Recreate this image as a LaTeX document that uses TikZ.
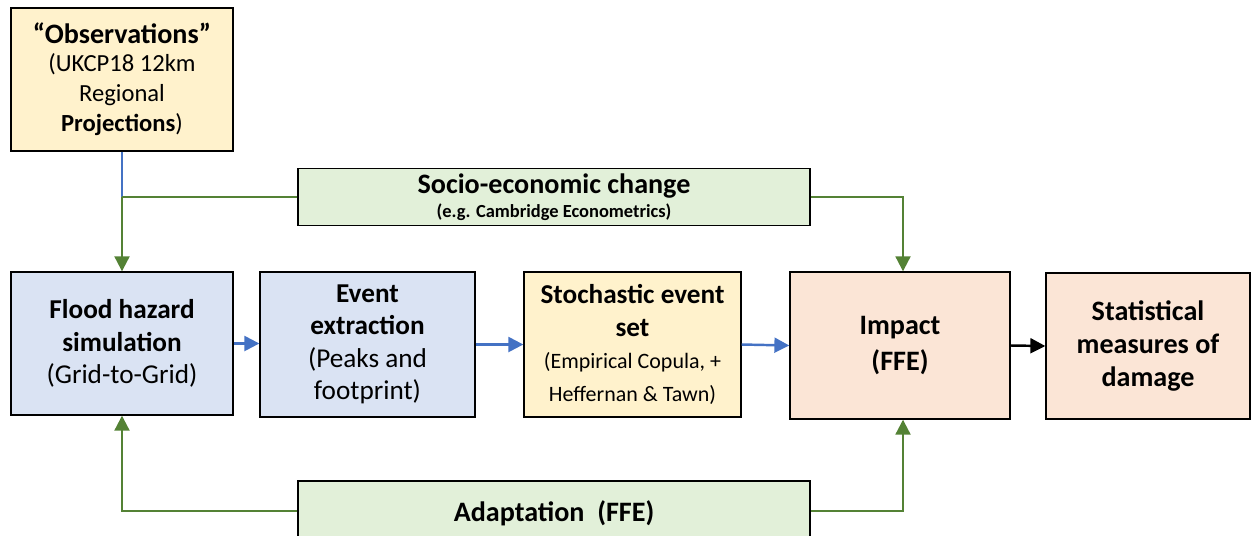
\documentclass[tikz,border=0pt]{standalone}
\usepackage{fontspec}
\setmainfont{Carlito}
\usetikzlibrary{arrows.meta}
\definecolor{boxblue}{HTML}{DAE3F3}
\definecolor{boxyellow}{HTML}{FFF2CC}
\definecolor{boxpink}{HTML}{FBE5D6}
\definecolor{boxgreen}{HTML}{E2F0D9}
\definecolor{linegreen}{HTML}{548235}
\definecolor{lineblue}{HTML}{4472C4}
\tikzset{
  stagebox/.style={draw=black, line width=0.8pt, align=center, inner sep=2pt,
    font=\fontsize{15.5}{18.5}\selectfont},
  greenflow/.style={draw=linegreen, line width=1.2pt},
  blueflow/.style={draw=lineblue, line width=1.4pt},
  tipflow/.style={-{Triangle[length=8.5pt,width=8.5pt]}}
}
\begin{document}
\begin{tikzpicture}[x=0.02cm, y=-0.02cm]
			%%%%% START %%%%%
			\clip (0, 0) rectangle (1251, 535);

			\node[stagebox, fill=boxyellow, minimum width=4.44cm, minimum height=2.86cm, font=\fontsize{14}{17}\selectfont] (obs) at (122, 79.5)
				{{\fontsize{16}{17}\selectfont\bfseries ``Observations''}\\[-1pt](UKCP18 12km\\Regional\\\textbf{Projections})};
			\node[stagebox, fill=boxgreen, minimum width=10.24cm, minimum height=1.14cm] (socio) at (554, 197)
				{\fontsize{16}{16}\selectfont\textbf{Socio-economic change}\\[-5pt]{\fontsize{10.5}{12}\selectfont\bfseries (e.g. Cambridge Econometrics)}};

			\node[stagebox, fill=boxblue, minimum width=4.44cm, minimum height=2.86cm] (flood) at (122, 343.5)
				{\textbf{Flood hazard}\\\textbf{simulation}\\(Grid-to-Grid)};
			\node[stagebox, fill=boxblue, minimum width=4.30cm, minimum height=2.90cm] (event) at (367.5, 344.5)
				{\textbf{Event}\\\textbf{extraction}\\(Peaks and\\footprint)};
			\node[stagebox, fill=boxyellow, minimum width=4.34cm, minimum height=2.90cm] (stoch) at (632.5, 344.5)
				{\textbf{Stochastic event}\\\textbf{set}\\{\fontsize{12.5}{16}\selectfont (Empirical Copula, +}\\{\fontsize{12.5}{15}\selectfont Heffernan \& Tawn)}};
			\node[stagebox, fill=boxpink, minimum width=4.40cm, minimum height=2.94cm, font=\fontsize{16}{20}\selectfont] (impact) at (900, 345.5)
				{\textbf{Impact}\\\textbf{(FFE)}};
			\node[stagebox, fill=boxpink, minimum width=4.08cm, minimum height=2.92cm, font=\fontsize{16}{19}\selectfont] (stat) at (1148, 346)
				{\textbf{Statistical}\\\textbf{measures of}\\\textbf{damage}};

			\node[stagebox, fill=boxgreen, minimum width=10.24cm, minimum height=1.30cm, font=\fontsize{16}{19}\selectfont] (adapt) at (554, 513.5)
				{\textbf{Adaptation~~(FFE)}};

			% junctions
			\coordinate (obsjoin) at (122, 197);
			\coordinate (impjoin) at (903, 197);
			\coordinate (adleft) at (122, 511);
			\coordinate (adright) at (903, 511);

			\draw[blueflow] (obs.south) -- (obsjoin);
			\draw[greenflow] (socio.west) -- (obsjoin);
			\draw[greenflow, tipflow] (obsjoin) -- (flood.north);
			\draw[greenflow, tipflow] (socio.east) -- (impjoin) -- (impjoin |- impact.north);

			\draw[greenflow, tipflow] (adapt.west |- adleft) -- (adleft) -- (flood.south);
			\draw[greenflow, tipflow] (adapt.east |- adright) -- (adright) -- (adright |- impact.south);

			\draw[blueflow, tipflow] (flood.east) -- (event.west |- flood.east);
			\draw[blueflow, tipflow] (event.east) -- (stoch.west);
			\draw[blueflow, tipflow] (stoch.east) -- (impact.west);
			\draw[line width=1.4pt, tipflow] (impact.east) -- (stat.west);
			%%%%% END %%%%%
\end{tikzpicture}
\end{document}
